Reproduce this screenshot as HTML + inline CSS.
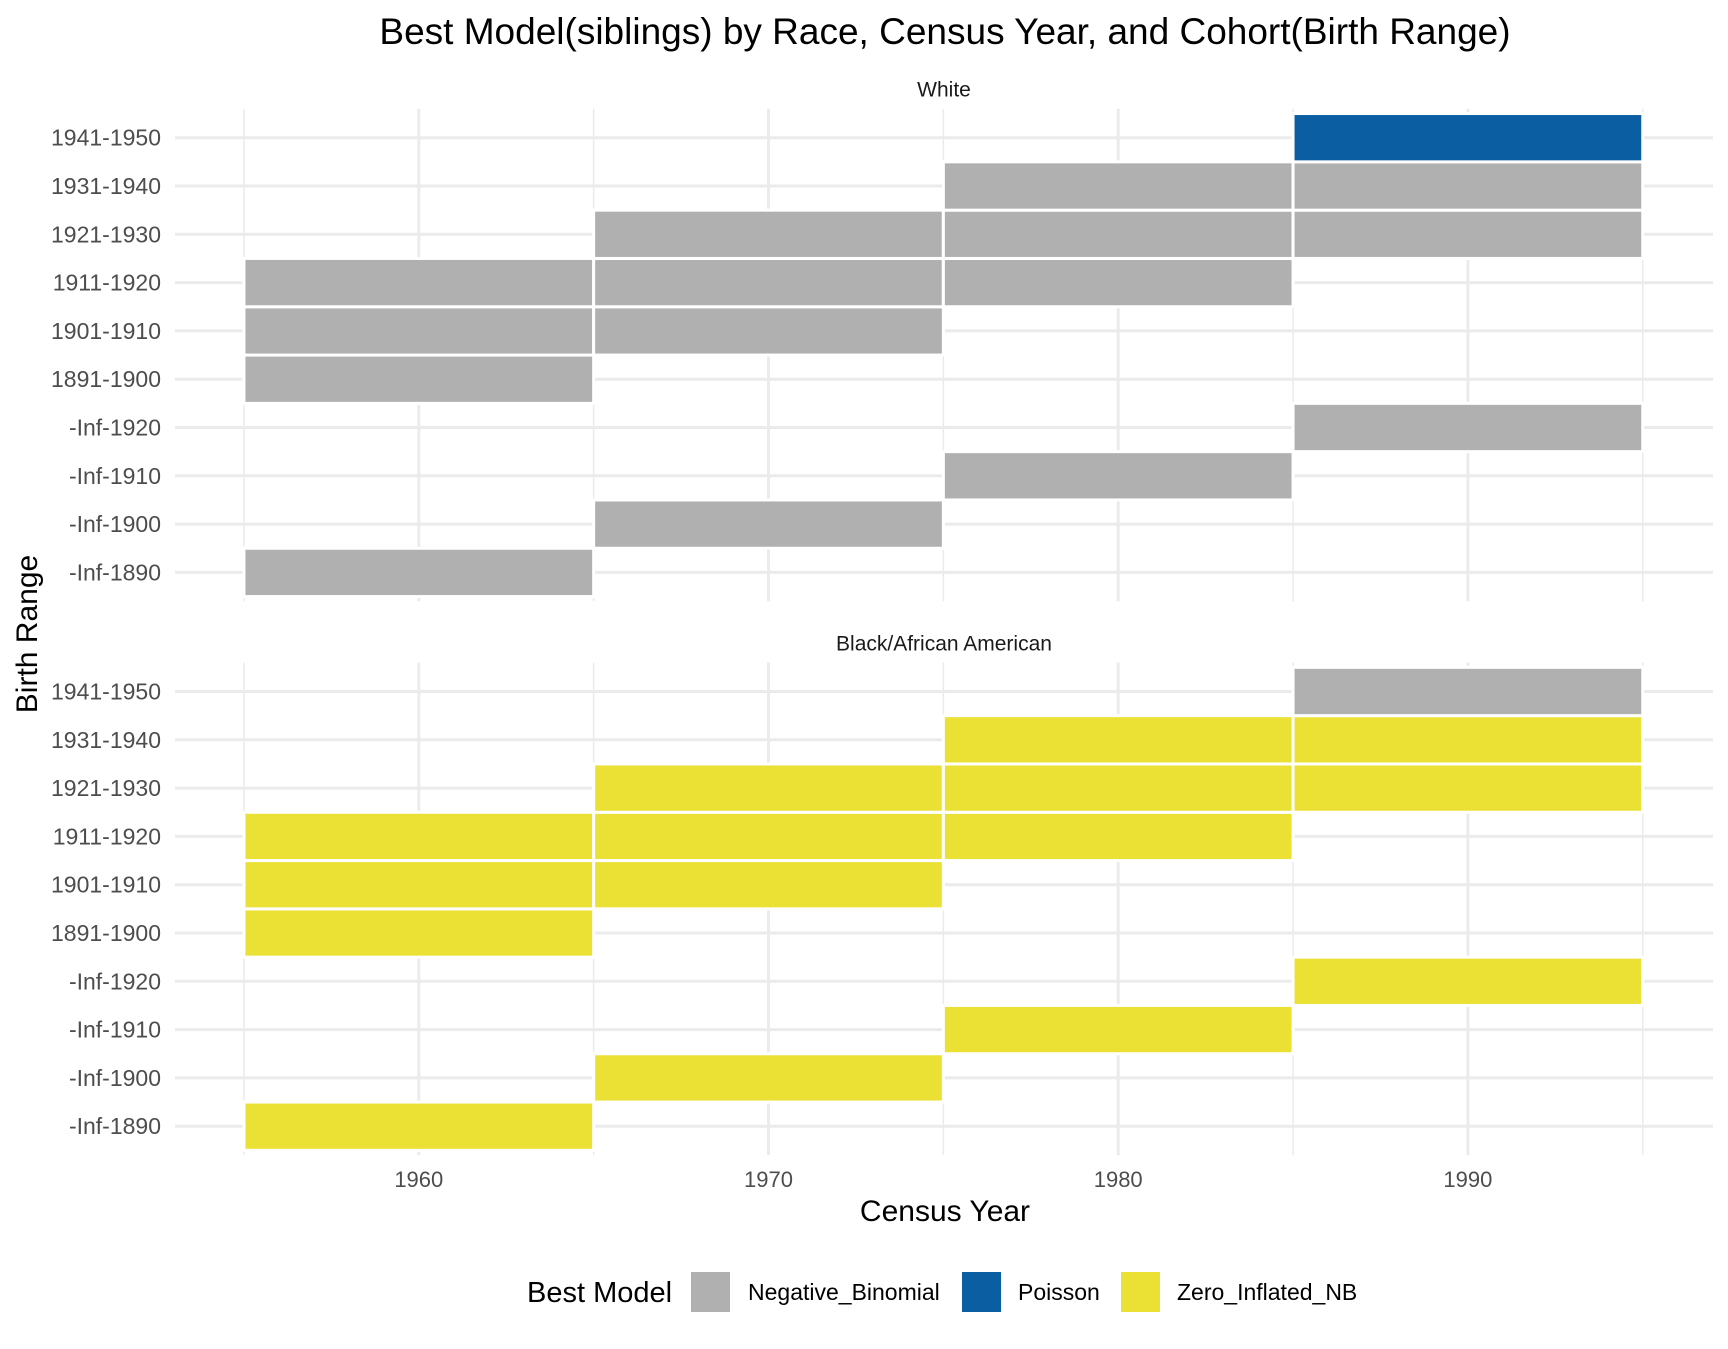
<!DOCTYPE html>
<html><head><meta charset="utf-8"><style>
body{margin:0;background:#fff;width:1728px;height:1344px;overflow:hidden;font-family:"Liberation Sans",Arial,sans-serif}
svg text{font-family:"Liberation Sans",Arial,sans-serif}
</style></head><body>
<svg id="chart" width="1728" height="1344" xmlns="http://www.w3.org/2000/svg">
<text x="945" y="44" font-size="37" text-anchor="middle" fill="#000">Best Model(siblings) by Race, Census Year, and Cohort(Birth Range)</text>
<text x="945" y="1221" font-size="30" text-anchor="middle" fill="#000">Census Year</text>
<text transform="translate(37,634) rotate(-90)" font-size="30" text-anchor="middle" fill="#000">Birth Range</text>
<g id="panels"></g>
<g id="xticks"></g>
<g>
<text x="527" y="1302" font-size="29" fill="#000">Best Model</text>
<rect x="691" y="1272" width="39" height="40" fill="#B0B0B0"/>
<text x="748" y="1300" font-size="23" fill="#000">Negative_Binomial</text>
<rect x="962" y="1272" width="39" height="40" fill="#0B5EA1"/>
<text x="1018" y="1300" font-size="23" fill="#000">Poisson</text>
<rect x="1121" y="1272" width="39" height="40" fill="#EBE134"/>
<text x="1177" y="1300" font-size="23" fill="#000">Zero_Inflated_NB</text>
</g>
</svg>
<script>
const categories = ["-Inf-1890","-Inf-1900","-Inf-1910","-Inf-1920","1891-1900","1901-1910","1911-1920","1921-1930","1931-1940","1941-1950"];
const xTicks = [1960,1970,1980,1990];
const panelNames = ["White","Black/African American"];
const tileYears = [1960,1960,1960,1960,1970,1970,1970,1970,1980,1980,1980,1980,1990,1990,1990,1990];
const tileRanges = ["-Inf-1890","1891-1900","1901-1910","1911-1920","-Inf-1900","1901-1910","1911-1920","1921-1930","-Inf-1910","1911-1920","1921-1930","1931-1940","-Inf-1920","1921-1930","1931-1940","1941-1950"];
const whiteModels = ["NB","NB","NB","NB","NB","NB","NB","NB","NB","NB","NB","NB","NB","NB","NB","P"];
const blackModels = ["Z","Z","Z","Z","Z","Z","Z","Z","Z","Z","Z","Z","Z","Z","Z","NB"];
const colors = {NB:"#B0B0B0",P:"#0B5EA1",Z:"#EBE134"};
const NS="http://www.w3.org/2000/svg";
const px0=175, px1=1713;
function xs(y){return 418.8+(y-1960)*34.97;}
const panelTops=[137.7,691.5], step=48.3;
function ys(p,cat){return panelTops[p]+(categories.length-1-categories.indexOf(cat))*step;}
function mk(tag,attrs,parent){const e=document.createElementNS(NS,tag);for(const k in attrs)e.setAttribute(k,attrs[k]);parent.appendChild(e);return e;}
const G=document.getElementById('panels');
[whiteModels,blackModels].forEach((models,p)=>{
  const g=mk('g',{},G);
  
  
  const top=panelTops[p]-0.6*step, bot=panelTops[p]+9.6*step;
  const st=mk('text',{x:(px0+px1)/2,y:top-12,'font-size':21,'text-anchor':'middle',fill:'#1a1a1a'},g);
  st.textContent=panelNames[p];
  
  
  for(let yr=1955;yr<=1995;yr+=5){
    const major=yr%10===0;
    const l=mk('line',{x1:xs(yr),x2:xs(yr),y1:top,y2:bot,stroke:'#EBEBEB','stroke-width':major?3:1.5},g);
    
    
  }
  categories.forEach(c=>{
    const y=ys(p,c);
    const l=mk('line',{x1:px0,x2:px1,y1:y,y2:y,stroke:'#EBEBEB','stroke-width':3},g);
    
    
    const t=mk('text',{x:161,y:y+8,'font-size':23,'text-anchor':'end',fill:'#4d4d4d'},g);
    t.textContent=c;
    
    
  });
  tileYears.forEach((yr,i)=>{
    const y=ys(p,tileRanges[i]);
    const r=mk('rect',{x:xs(yr-5),y:y-step/2,width:xs(yr+5)-xs(yr-5),height:step,fill:colors[models[i]],stroke:'#fff','stroke-width':3},g);
    
    
  });
});
const X=document.getElementById('xticks');
xTicks.forEach(v=>{
  const t=mk('text',{x:xs(v),y:1187,'font-size':22,'text-anchor':'middle',fill:'#4d4d4d'},X);
  t.textContent=v;
  
  
});
</script>
</body></html>
